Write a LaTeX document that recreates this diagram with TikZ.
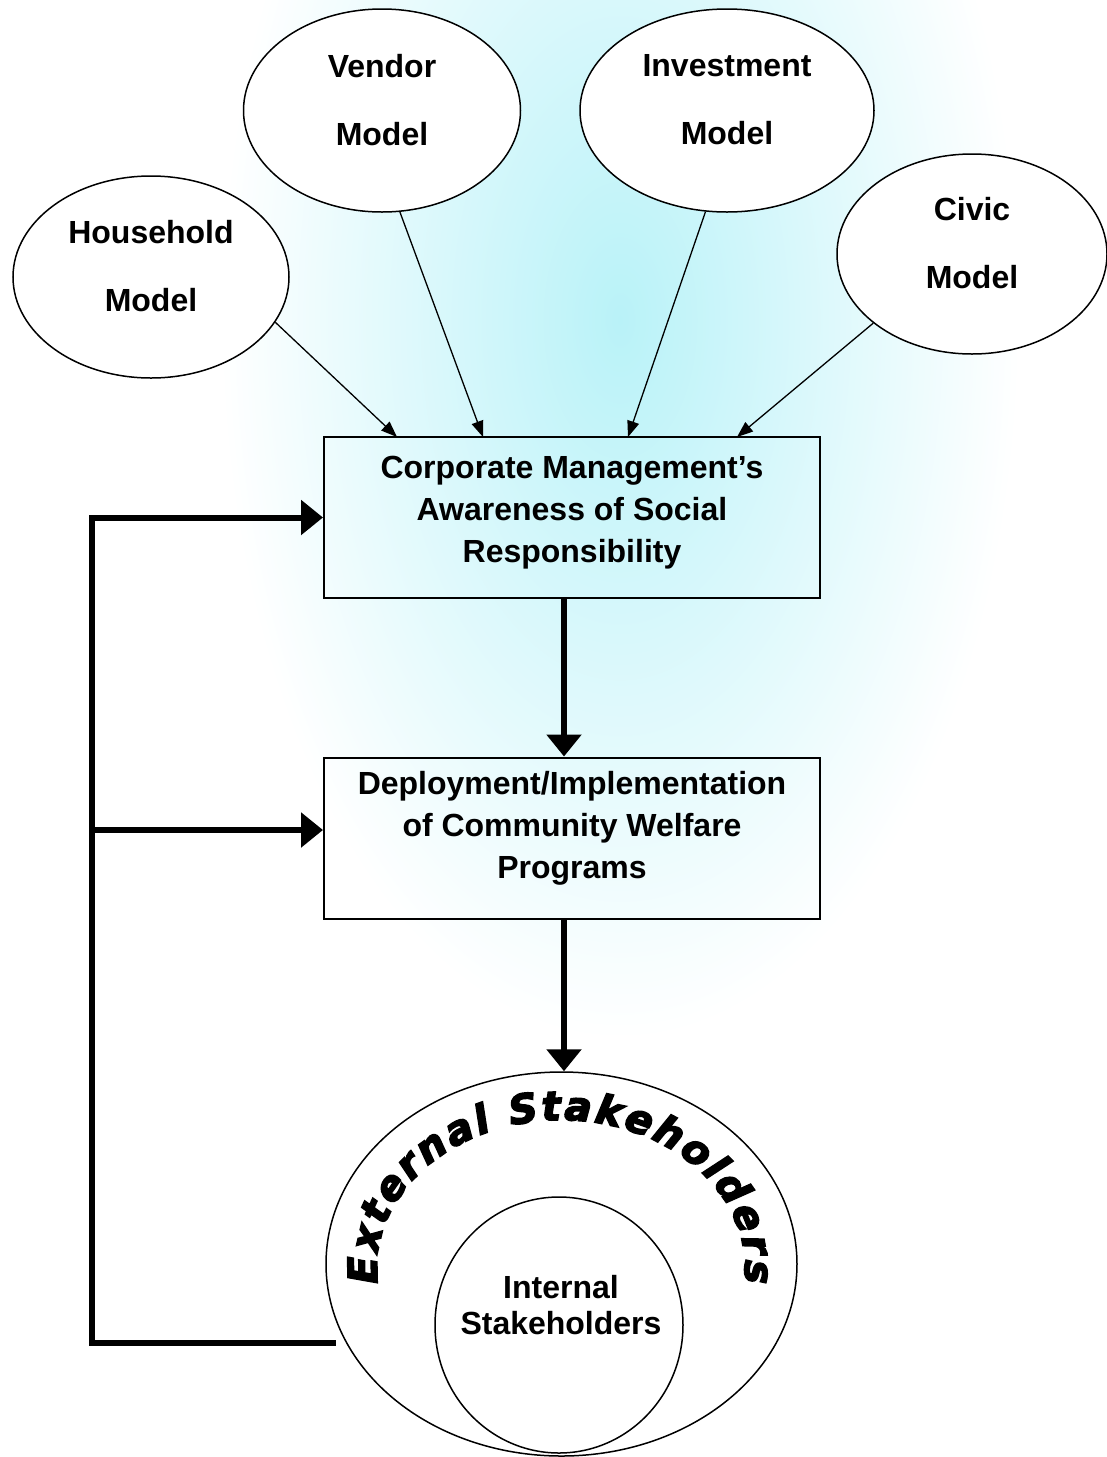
\documentclass[tikz,border=0pt]{standalone}
\usepackage{fontspec}
\setmainfont{Liberation Sans}
\newfontfamily\dejavu[BoldItalicFeatures={FakeBold=4}]{DejaVu Sans}
\usetikzlibrary{arrows.meta,shapes.geometric,decorations.text}
\definecolor{wmcyan}{RGB}{185,242,248}
\newcommand\extfmt{\dejavu\bfseries\itshape\fontsize{40}{44}\selectfont}
\begin{document}
\begin{tikzpicture}[x=1pt,y=1pt,
  model/.style={ellipse, draw, line width=1.5pt, fill=white, inner sep=0pt, align=center,
    font=\bfseries\fontsize{32}{68}\selectfont, text depth=22pt},
  stepbox/.style={rectangle, draw, line width=2pt, minimum width=496pt, minimum height=161pt,
    align=center, font=\bfseries\fontsize{32}{42}\selectfont},
  ring/.style={ellipse, draw, line width=1.5pt, inner sep=0pt},
  thinarrow/.style={line width=1.3pt, -{Triangle[length=16pt,width=12pt]}},
  bigarrow/.style={line width=6pt, -{Triangle[length=22pt,width=34pt]}},
  loopline/.style={line width=6pt, line join=miter}
]
\clip (0,0) rectangle (1107,-1457);
\fill[white] (0,0) rectangle (1107,-1457);
% watermark glow
\shade[inner color=wmcyan, outer color=white] (620,-320) ellipse [x radius=400, y radius=720];

% model ellipses
\node[model, minimum width=276pt, minimum height=202pt] (house) at (151,-277) {Household\\Model};
\node[model, minimum width=277pt, minimum height=203pt] (vendor) at (382,-110.5) {Vendor\\Model};
\node[model, minimum width=294pt, minimum height=203pt] (invest) at (727,-110.5) {Investment\\Model};
\node[model, minimum width=270pt, minimum height=200pt] (civic) at (972,-254) {Civic\\Model};

% boxes
\node[stepbox, text depth=16pt] (b1) at (572,-517.5) {Corporate Management’s\\Awareness of Social\\Responsibility};
\node[stepbox, text depth=27pt] (b2) at (572,-838) {Deployment/Implementation\\of Community Welfare\\Programs};

% stakeholders
\node[ring, minimum width=471pt, minimum height=384pt] (ext) at (561.5,-1264) {};
\node[ring, minimum width=248pt, minimum height=256pt] (int) at (559,-1325) {};
\node[align=center, font=\bfseries\fontsize{32}{36}\selectfont] (intl) at (561,-1305) {Internal\\Stakeholders};
\path[decorate, decoration={text along path, text={|\extfmt|External Stakeholders}, text align={fit to path}}]
  (561,-1268) ++(186:184 and 148) arc[start angle=186, end angle=-6, x radius=184, y radius=148];

% arrow end points on box 1
\coordinate (t1) at (397,-437);
\coordinate (t2) at (483,-437);
\coordinate (t3) at (628,-437);
\coordinate (t4) at (737,-437);
\draw[thinarrow] (house.-20) -- (t1);
\draw[thinarrow] (vendor.-80) -- (t2);
\draw[thinarrow] (invest.-102) -- (t3);
\draw[thinarrow] (civic.215) -- (t4);

% main flow
\coordinate (mx) at (564,0);
\draw[bigarrow] (b1.south -| mx) -- (b2.north -| mx);
\draw[bigarrow] (b2.south -| mx) -- (ext.north -| mx);

% feedback loop
\coordinate (lt) at (92,-517.5);
\coordinate (lm) at (92,-830);
\draw[loopline, shorten <=10pt] (ext.200) -- (ext.200 -| lt) -- (lt);
\draw[bigarrow, line join=miter] (ext.200 -| lt) ++(0,3) -- (lt) -- (b1.west |- lt);
\draw[bigarrow] (lm) -- (b2.west |- lm);
\end{tikzpicture}
\end{document}
